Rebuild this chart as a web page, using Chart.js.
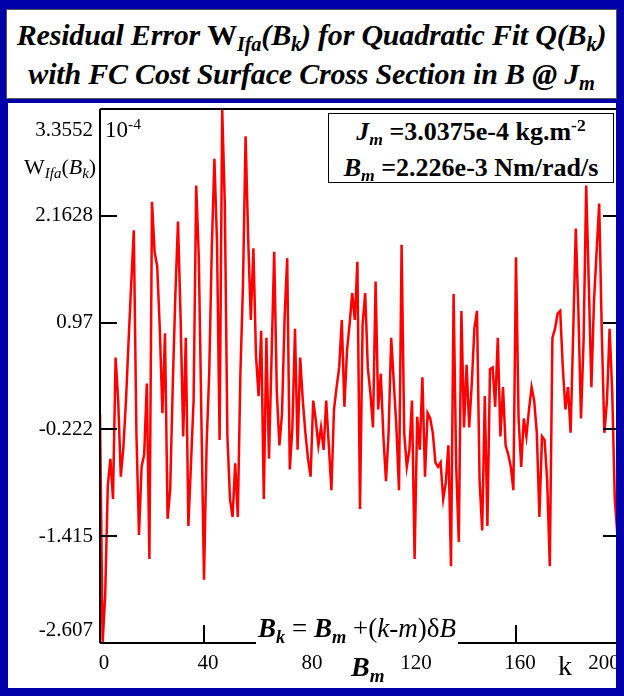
<!DOCTYPE html>
<html>
<head>
<meta charset="utf-8">
<script src="https://cdn.jsdelivr.net/npm/chart.js@4.4.1/dist/chart.umd.min.js"></script>
<style>
  html, body { margin: 0; padding: 0; }
  body { width: 624px; height: 696px; background: #0000a8; position: relative; overflow: hidden;
         font-family: 'Liberation Serif', 'Times New Roman', serif; color: #000; }
  sub { vertical-align: baseline; position: relative; top: 0.3em; font-size: 0.68em; }
  sup { vertical-align: baseline; position: relative; top: -0.5em; font-size: 0.68em; }
  #title { position: absolute; left: 6px; top: 9px; width: 611px; height: 90px; box-sizing: border-box;
           background: #fff; border: 1px solid #555; text-align: center; font-weight: bold; font-style: italic;
           font-size: 30px; line-height: 36px; padding-top: 7px; white-space: nowrap; letter-spacing: -0.2px; }
  #title .up { font-style: normal; }
  #panel { position: absolute; left: 8px; top: 103px; width: 608px; height: 585px; background: #fff; overflow: hidden; }
  #c { position: absolute; left: 0; top: 0; }
  .lbl { position: absolute; white-space: nowrap; line-height: 30px; }
  #legend { position: absolute; left: 320px; top: 10px; width: 286px; height: 70px; box-sizing: border-box;
            border: 1.5px solid #000; background: #fff; text-align: center; font-weight: bold; font-size: 26px;
            line-height: 33px; padding-top: 1px; white-space: nowrap; }
</style>
</head>
<body>
<div id="title">
  <div>Residual Error <span class="up">W</span><sub>Ifa</sub>(B<sub>k</sub>) for Quadratic Fit Q(B<sub>k</sub>)</div>
  <div>with FC Cost Surface Cross Section in B @ J<sub>m</sub></div>
</div>
<div id="panel">
  <canvas id="c" width="630" height="585"></canvas>
  <div id="legend">
    <div><i>J<sub>m</sub></i> =3.0375e-4 kg.m<sup>-2</sup></div>
    <div><i>B<sub>m</sub></i> =2.226e-3 Nm/rad/s</div>
  </div>
  <div class="lbl" style="left:97px;top:12px;font-size:23px;">10<sup>-4</sup></div>
  <div class="lbl" style="left:16px;top:49px;font-size:22px;">W<sub><i>Ifa</i></sub>(<i>B<sub>k</sub></i>)</div>
  <div class="lbl" style="left:248px;top:511px;font-size:27px;background:#fff;padding:0 2px;line-height:28px;"><b><i>B<sub>k</sub></i></b> = <b><i>B<sub>m</sub></i></b> +(<i>k</i>-<i>m</i>)&delta;<i>B</i></div>
  <div class="lbl" style="left:343px;top:549px;font-size:28px;font-weight:bold;font-style:italic;">B<sub>m</sub></div>
  <div class="lbl" style="left:550px;top:548px;font-size:28px;">k</div>
</div>
<script>
// k index along the cross section
const kValues = Array.from({ length: 201 }, (_, i) => i);

// residual W_Ifa(B_k), units of 1e-4
const residual = [
  -0.05, -2.607, -2.08, -0.85, -0.55, -1.0, 0.58, 0.1, -0.75, -0.42,
  0.1, 0.77, 1.4, 2.0, -0.26, -1.4, -0.64, -0.5, 0.29, -1.67,
  2.32, 1.76, 1.6, 0.9, -0.04, 0.85, -1.22, -0.89, 0.29, 1.29,
  2.1, 1.02, -0.3, 0.8, -1.3, -0.6, 0.1, 2.5, 1.7, -0.1,
  -1.9, -0.4, 0.4, 1.8, 2.8, 1.87, -0.34, 3.3552, 2.3, -0.3,
  -1.0, -1.2, -0.6, -1.2, 0.4, 1.4, 3.05, 1.9, 1.0, 1.8,
  0.6, 0.15, 0.88, -1.0, 0.8, -0.55, 0.6, 1.76, 0.2, -0.4,
  -0.05, 1.02, 1.69, -0.67, -0.2, 0.9, -0.45, 0.58, 0.1, -0.26,
  -0.55, -0.75, 0.1, -0.12, -0.4, -0.2, -0.45, 0.1, -0.4, -0.9,
  0.0, 0.25, 0.47, 1.0, 0.03, 0.66, 0.95, 1.3, 1.0, 1.65,
  -1.11, 0.95, 1.3, 0.47, 0.18, -0.2, 1.43, 0.0, 0.4, -0.3,
  -0.8, -0.26, 0.8, 0.3, -0.2, -0.9, 1.84, -0.26, -0.64, -0.45,
  0.1, -1.67, -0.08, -0.45, 0.36, -0.75, -0.04, -0.1, -0.26, -0.59,
  -0.64, -0.59, -1.0, -0.82, -0.4, -1.75, 1.29, -0.64, -1.48, 1.1,
  -0.2, 0.5, -0.2, 0.29, 0.91, 1.1, -0.8, -1.35, 0.15, -1.3,
  0.45, 0.47, 0.03, 0.8, -0.3, 0.25, -0.4, -0.5, -0.64, -0.9,
  1.7, -0.1, -0.64, -0.1, -0.3, 0.0, 0.25, 0.1, -0.26, -1.2,
  -0.3, -0.34, -0.8, -1.75, 0.8, 0.9, 1.07, 1.1, 0.47, 0.0,
  0.25, -0.26, 0.85, 2.02, 1.1, -0.1, 0.77, 2.5, 1.4, 0.25,
  1.21, 1.76, 2.3, 0.85, -0.26, 0.1, 0.9, 0.2, -1.0, -1.4,
  -0.8
];

const yTicks = [-2.607, -1.415, -0.222, 0.97, 2.1628, 3.3552];
const yTickLabels = ['-2.607', '-1.415', '-0.222', '0.97', '2.1628', '3.3552'];
const xTicks = [0, 40, 80, 120, 160, 200];
const xTickLabels = ['0', '40', '80', '120', '160', '200'];

// frame, inward ticks and tick labels, drawn from the scales
const axesPlugin = {
  id: 'axesPlugin',
  afterDatasetsDraw(chart) {
    const { ctx, chartArea: a, scales: { x, y } } = chart;
    ctx.save();
    ctx.strokeStyle = '#000';
    ctx.lineWidth = 2;
    ctx.beginPath();
    ctx.moveTo(a.left, a.top); ctx.lineTo(a.right, a.top);
    ctx.moveTo(a.left, a.top); ctx.lineTo(a.left, a.bottom);
    ctx.moveTo(a.left, a.bottom); ctx.lineTo(a.right, a.bottom);
    ctx.moveTo(a.right, a.top); ctx.lineTo(a.right, a.bottom);
    yTicks.slice(1, -1).forEach(v => {
      const py = Math.round(y.getPixelForValue(v));
      ctx.moveTo(a.left, py); ctx.lineTo(a.left + 17, py);
      ctx.moveTo(a.right - 17, py); ctx.lineTo(a.right, py);
    });
    xTicks.slice(1, -1).forEach(v => {
      const px = Math.round(x.getPixelForValue(v));
      ctx.moveTo(px, a.bottom); ctx.lineTo(px, a.bottom - 18);
    });
    ctx.stroke();

    ctx.fillStyle = '#000';
    ctx.font = "21px 'Liberation Serif'";
    ctx.textAlign = 'right';
    ctx.textBaseline = 'middle';
    yTicks.forEach((v, i) => {
      let py = y.getPixelForValue(v);
      if (i === yTicks.length - 1) py += 21;
      if (i === 0) py -= 13;
      ctx.fillText(yTickLabels[i], a.left - 7, py);
    });
    ctx.textAlign = 'center';
    xTicks.forEach((v, i) => {
      let px = x.getPixelForValue(v) + 4;
      if (i === xTicks.length - 1) px -= 20;
      ctx.fillText(xTickLabels[i], px, a.bottom + 20);
    });
    ctx.restore();
  }
};

new Chart(document.getElementById('c'), {
  type: 'line',
  data: {
    datasets: [{
      data: kValues.map((k, i) => ({ x: k, y: residual[i] })),
      borderColor: '#ff0000',
      borderWidth: 2.5,
      pointRadius: 0,
      tension: 0
    }]
  },
  options: {
    responsive: false,
    animation: false,
    devicePixelRatio: 1,
    layout: { padding: { left: 92, top: 6, right: 18, bottom: 45 } },
    plugins: { legend: { display: false }, tooltip: { enabled: false } },
    scales: {
      x: { type: 'linear', min: 0, max: 200, display: false },
      y: { min: -2.607, max: 3.3552, display: false }
    }
  },
  plugins: [axesPlugin]
});
</script>
</body>
</html>
